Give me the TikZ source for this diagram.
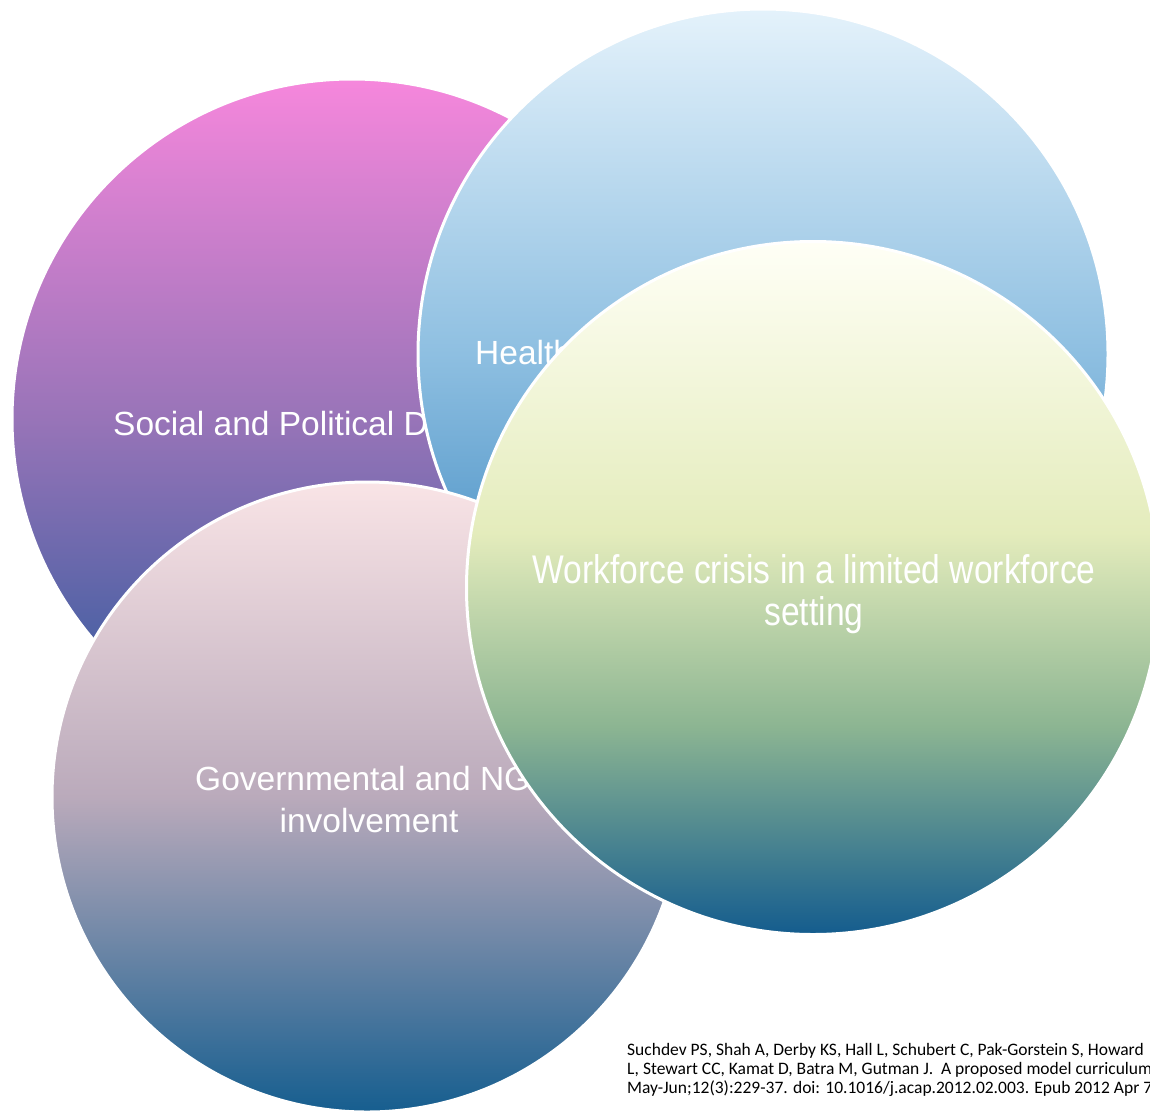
\documentclass[tikz,border=0pt]{standalone}
\usepackage{fontspec}
\setmainfont{Liberation Sans}
\newfontfamily\wffont[FakeStretch=0.84]{Liberation Sans}
\newfontfamily\citefont{Carlito}
\definecolor{aTop}{RGB}{246,135,220}
\definecolor{aMid}{RGB}{152,116,184}
\definecolor{aBot}{RGB}{40,88,155}
\definecolor{bTop}{RGB}{228,242,251}
\definecolor{bMid}{RGB}{142,191,225}
\definecolor{bBot}{RGB}{45,125,185}
\definecolor{cTop}{RGB}{249,228,230}
\definecolor{cMid}{RGB}{186,170,187}
\definecolor{cBot}{RGB}{22,94,143}
\definecolor{dTop}{RGB}{255,255,246}
\definecolor{dHi}{RGB}{228,236,188}
\definecolor{dMid}{RGB}{140,181,146}
\definecolor{dBot}{RGB}{20,92,142}
\pgfdeclareverticalshading{shadeA}{100bp}{color(0bp)=(aBot); color(25bp)=(aBot); color(50bp)=(aMid); color(75bp)=(aTop); color(100bp)=(aTop)}
\pgfdeclareverticalshading{shadeB}{100bp}{color(0bp)=(bBot); color(25bp)=(bBot); color(50bp)=(bMid); color(75bp)=(bTop); color(100bp)=(bTop)}
\pgfdeclareverticalshading{shadeC}{100bp}{color(0bp)=(cBot); color(25bp)=(cBot); color(50bp)=(cMid); color(75bp)=(cTop); color(100bp)=(cTop)}
\pgfdeclareverticalshading{shadeD}{100bp}{color(0bp)=(dBot); color(25bp)=(dBot); color(40bp)=(dMid); color(54bp)=(dHi); color(75bp)=(dTop); color(100bp)=(dTop)}
\tikzset{
  venn/.style={circle, inner sep=0pt, draw=white, line width=3pt},
  lbl/.style={text=white, inner sep=0pt, font=\fontsize{33.5}{42}\selectfont},
  wflbl/.style={text=white, inner sep=0pt, font=\wffont\fontsize{40}{46}\selectfont},
  cite/.style={text=black, inner sep=0pt, font=\citefont\fontsize{17.5}{19}\selectfont}
}
\begin{document}
\begin{tikzpicture}[x=1pt,y=-1pt]
\useasboundingbox (0,0) rectangle (1150,1114);
\clip (0,0) rectangle (1150,1114);
\node[venn, shading=shadeA, minimum size=680pt] (c1) at (352,419) {};
\node[lbl, anchor=base west] (t1) at (113,435) {Social and Political D};
\node[venn, shading=shadeB, minimum size=690pt] (c2) at (763,354) {};
\node[lbl, anchor=base west] (t2) at (475,364) {Health};
\node[venn, shading=shadeC, minimum size=630pt] (c3) at (367,797) {};
\node[lbl, anchor=base west] (t3a) at (195,790) {Governmental and NG};
\node[lbl, anchor=base] (t3b) at (369,832) {involvement};
\node[venn, shading=shadeD, minimum size=693pt] (c4) at (813,588) {};
\node[wflbl, anchor=base] (t4a) at (814,583) {Workforce crisis in a limited workforce};
\node[wflbl, anchor=base] (t4b) at (814,625) {setting};
\node[cite, anchor=base west] (r1) at (627,1055) {Suchdev PS, Shah A, Derby KS, Hall L, Schubert C, Pak-Gorstein S, Howard};
\node[cite, anchor=base west] (r2) at (627,1074) {L, Stewart CC, Kamat D, Batra M, Gutman J.\ \ A proposed model curriculum};
\node[cite, anchor=base west] (r3) at (627,1093) {May-Jun;12(3):229-37. doi: 10.1016/j.acap.2012.02.003. Epub 2012 Apr 7.};
\end{tikzpicture}
\end{document}
